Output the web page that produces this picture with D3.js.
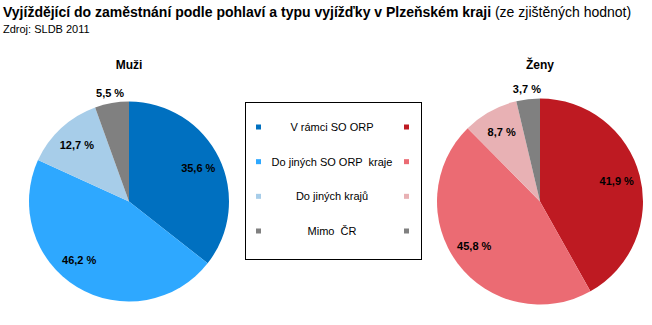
<!DOCTYPE html>
<html>
<head>
<meta charset="utf-8">
<script src="https://cdn.jsdelivr.net/npm/d3@7"></script>
<style>
  html, body { margin: 0; padding: 0; background: #fff; }
  svg { display: block; font-family: "Liberation Sans", Arial, sans-serif; }
</style>
</head>
<body>
<svg id="chart" width="652" height="325"></svg>
<script>
// Commuting categories and shares (%) for men and women
const categories = ["V rámci SO ORP", "Do jiných SO ORP  kraje", "Do jiných krajů", "Mimo  ČR"];
const menValues = [35.6, 46.2, 12.7, 5.5];
const womenValues = [41.9, 45.8, 8.7, 3.7];
const menColors = ["#0070c0", "#2ea8ff", "#a7cde9", "#808080"];
const womenColors = ["#be1a22", "#eb6b73", "#e8b1b4", "#808080"];

const svg = d3.select("#chart");

// Title block
const title = svg.append("text").attr("x", 3).attr("y", 17)
  .attr("font-size", 14).attr("fill", "#000");
title.append("tspan").attr("font-weight", "bold")
  .text("Vyjíždějící do zaměstnání podle pohlaví a typu vyjížďky v Plzeňském kraji");
title.append("tspan").attr("font-weight", "normal").text(" (ze zjištěných hodnot)");
svg.append("text").attr("x", 3).attr("y", 33).attr("font-size", 11)
  .text("Zdroj: SLDB 2011");

const fmt = v => d3.format(".1f")(v).replace(".", ",") + " %";

const pie = d3.pie().sort(null).value(d => d);

// Pie with value labels: large slices labelled inside, thin ones just outside the rim.
// labelNudge holds small angular adjustments (degrees) per slice label.
function drawPie(values, colors, cx, cy, r, heading, labelNudge) {
  const g = svg.append("g").attr("transform", `translate(${cx},${cy})`);
  const arcs = pie(values);
  const arc = d3.arc().innerRadius(0).outerRadius(r);
  g.selectAll("path.slice").data(arcs).join("path")
    .attr("class", "slice")
    .attr("d", arc)
    .attr("fill", (d, i) => colors[i]);

  g.selectAll("text.lbl").data(arcs).join("text")
    .attr("class", "lbl")
    .attr("font-size", 11).attr("font-weight", "bold")
    .attr("text-anchor", "middle").attr("dy", "0.35em")
    .attr("fill", "#000")
    .attr("transform", (d, i) => {
      const small = (d.endAngle - d.startAngle) < 0.4;
      const rr = small ? r + 10 : r * 0.77;
      const a = (d.startAngle + d.endAngle) / 2 + (labelNudge[i] || 0) * Math.PI / 180;
      return `translate(${rr * Math.sin(a)},${-rr * Math.cos(a)})`;
    })
    .text(d => fmt(d.data));

  svg.append("text").attr("x", cx).attr("y", 69)
    .attr("text-anchor", "middle").attr("font-size", 12).attr("font-weight", "bold")
    .text(heading);
}

drawPie(menValues, menColors, 129, 201.5, 100, "Muži", [0, 9, 0, 0]);
drawPie(womenValues, womenColors, 540, 201.5, 103, "Ženy", [0, 3, 0, 0]);

// Legend box
const legend = svg.append("g");
legend.append("rect").attr("x", 245.5).attr("y", 102.5).attr("width", 176).attr("height", 157)
  .attr("fill", "#fff").attr("stroke", "#000").attr("stroke-width", 1);

const rowY = d3.scalePoint().domain(categories).range([127, 231]);
const rows = legend.selectAll("g.row").data(categories).join("g").attr("class", "row")
  .attr("transform", d => `translate(0,${rowY(d)})`);
rows.append("rect").attr("x", 256).attr("y", -2.5).attr("width", 5).attr("height", 5)
  .attr("fill", (d, i) => menColors[i]);
rows.append("rect").attr("x", 404).attr("y", -2.5).attr("width", 5).attr("height", 5)
  .attr("fill", (d, i) => womenColors[i]);
rows.append("text").attr("x", 332).attr("dy", "0.35em")
  .attr("text-anchor", "middle").attr("font-size", 11)
  .attr("xml:space", "preserve")
  .style("white-space", "pre")
  .text(d => d);
</script>
</body>
</html>
